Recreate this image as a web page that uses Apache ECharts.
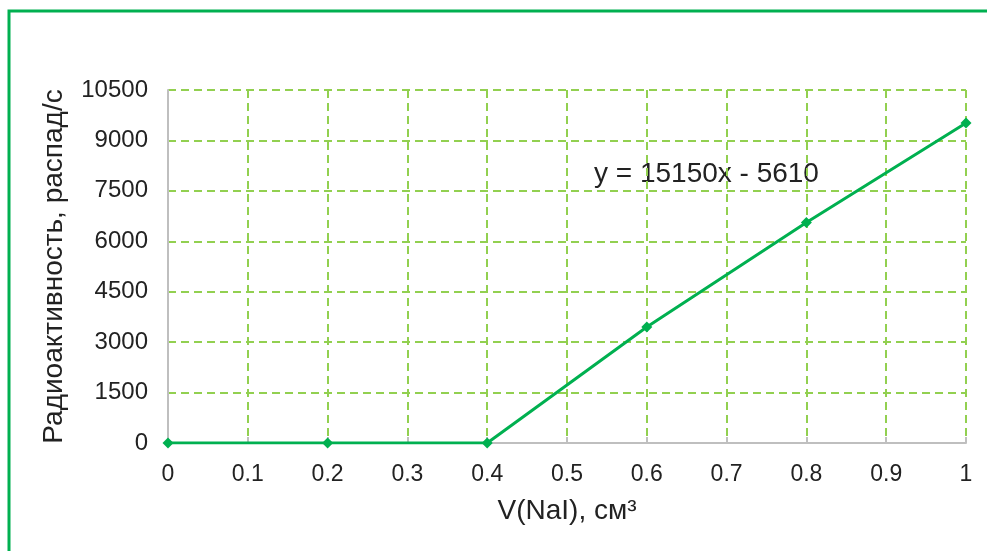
<!DOCTYPE html>
<html>
<head>
<meta charset="utf-8">
<script src="https://cdn.jsdelivr.net/npm/echarts@6/dist/echarts.min.js"></script>
<style>
html,body{margin:0;padding:0;background:#fff;}
#chart{width:987px;height:551px;}
</style>
</head>
<body>
<div id="chart"></div>
<script>
const xValues = [0, 0.2, 0.4, 0.6, 0.8, 1];
const yValues = [0, 0, 0, 3450, 6560, 9520];
const xAxisName = 'V(NaI), см³';
const yAxisName = 'Радиоактивность, распад/с';
const equationText = 'y = 15150x - 5610';
const yMin = 0, yMax = 10500, yStep = 1500;
const xMin = 0, xMax = 1, xStep = 0.1;

const font = '"Liberation Sans", Arial, sans-serif';
const chart = echarts.init(document.getElementById('chart'));
chart.setOption({
  animation: false,
  backgroundColor: '#fff',
  grid: { left: 168, right: 21, top: 90, bottom: 108 },
  graphic: [
    { type: 'rect', shape: { x: 9, y: 11, width: 1100, height: 700 },
      style: { fill: 'none', stroke: '#00B050', lineWidth: 3 }, silent: true },
    { type: 'text', left: 594, top: 160,
      style: { text: equationText, font: '28px ' + font, fill: '#222' } }
  ],
  xAxis: {
    type: 'value', min: xMin, max: xMax, interval: xStep,
    name: xAxisName, nameLocation: 'middle', nameGap: 54,
    nameTextStyle: { fontFamily: font, fontSize: 28, color: '#222' },
    axisLine: { lineStyle: { color: '#BFBFBF', width: 2 } },
    axisTick: { show: true, inside: true, length: 6, lineStyle: { color: '#BFBFBF', width: 2 } },
    axisLabel: { fontFamily: font, fontSize: 23, color: '#222', margin: 20,
      formatter: v => String(+v.toFixed(1)) },
    splitLine: { show: true, lineStyle: { color: '#92D050', width: 2, type: [8, 5] } }
  },
  yAxis: {
    type: 'value', min: yMin, max: yMax, interval: yStep,
    name: yAxisName, nameLocation: 'middle', nameGap: 100, nameRotate: 90,
    nameTextStyle: { fontFamily: font, fontSize: 28, color: '#222' },
    axisLine: { show: true, lineStyle: { color: '#BFBFBF', width: 2 } },
    axisTick: { show: false },
    axisLabel: { fontFamily: font, fontSize: 24, color: '#222', margin: 20,
      formatter: v => String(v) },
    splitLine: { show: true, lineStyle: { color: '#92D050', width: 2, type: [8, 5] } }
  },
  series: [{
    type: 'line',
    data: xValues.map((x, i) => [x, yValues[i]]),
    symbol: 'diamond', symbolSize: 11,
    lineStyle: { color: '#00B050', width: 3 },
    itemStyle: { color: '#00B050' },
    z: 5
  }]
});
</script>
</body>
</html>
